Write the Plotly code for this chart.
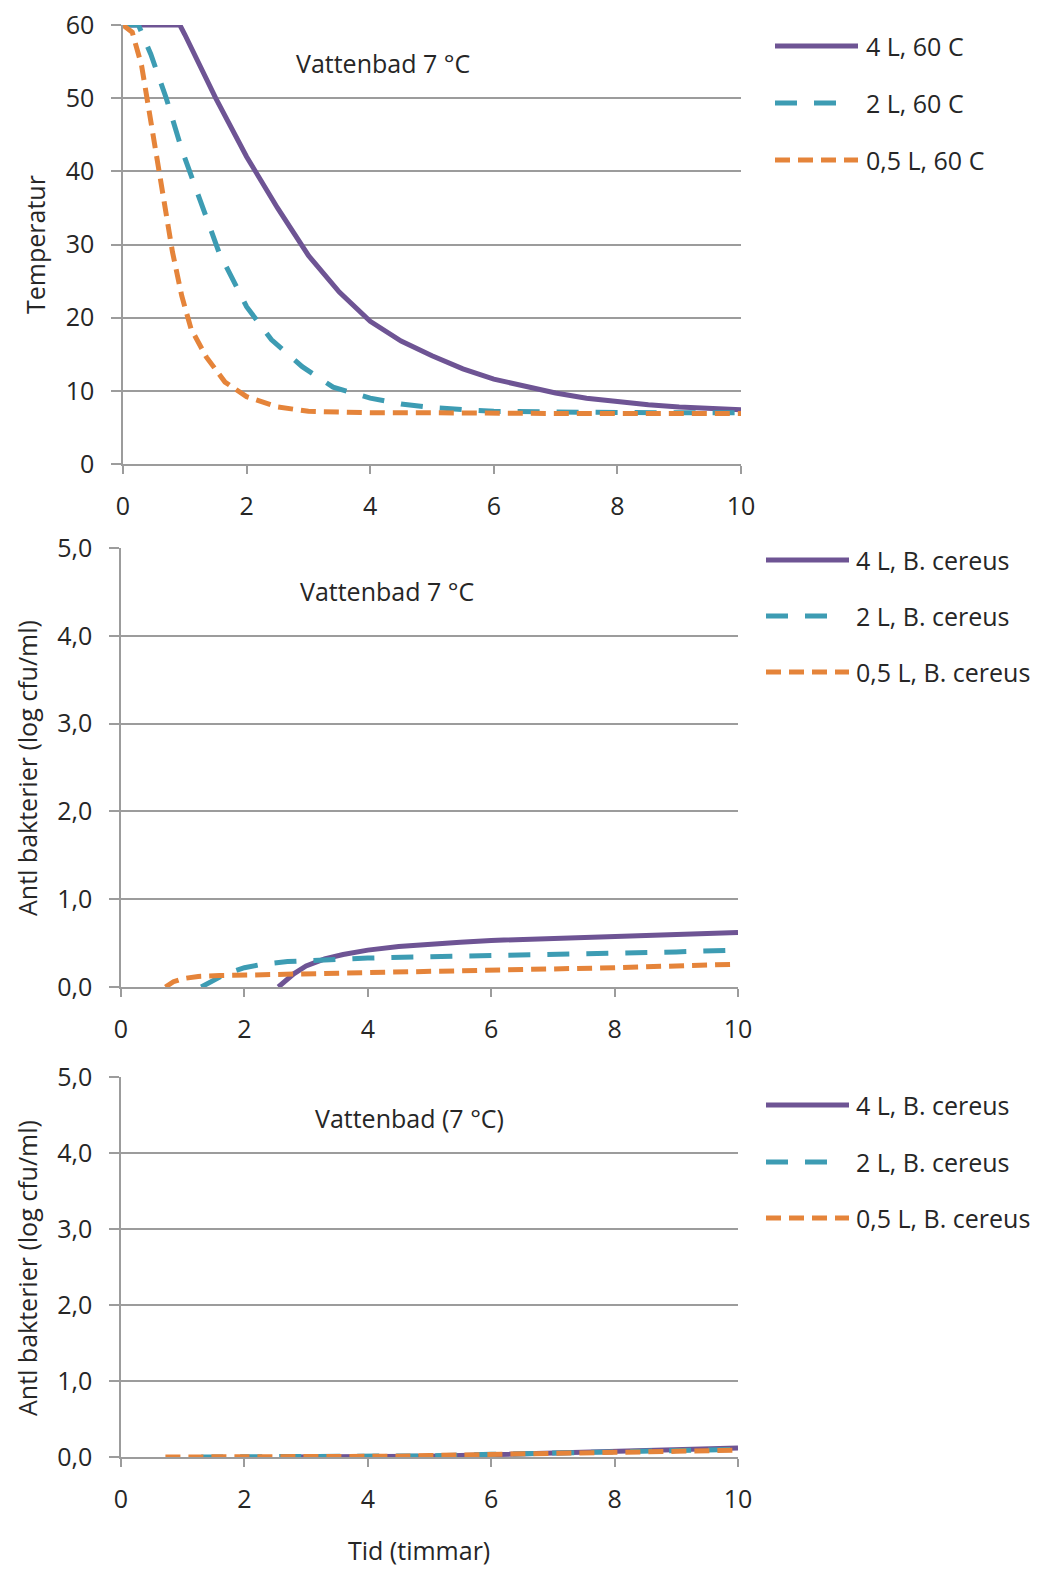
import plotly.graph_objects as go

# ---- Panel 1: temperature (°C) over time (h) ----
t_temp_4l = [0, 0.92, 1.0, 1.2, 1.5, 2.0, 2.5, 3.0, 3.5, 4.0, 4.5, 5.0, 5.5, 6.0, 6.5, 7.0, 7.5, 8.0, 8.5, 9.0, 9.5, 10.0]
temp_4l = [60, 60, 58.7, 55.2, 50, 42, 35, 28.5, 23.5, 19.5, 16.8, 14.8, 13, 11.6, 10.6, 9.7, 9.0, 8.5, 8.1, 7.8, 7.6, 7.4]

t_temp_2l = [0, 0.25, 0.45, 0.7, 0.95, 1.25, 1.55, 2.0, 2.4, 2.9, 3.4, 4.0, 4.5, 5.0, 5.5, 6.0, 7.0, 8.0, 9.0, 10.0]
temp_2l = [60, 60, 56, 50, 43, 36, 29, 21.5, 17, 13.3, 10.5, 9.0, 8.2, 7.7, 7.4, 7.2, 7.1, 7.0, 7.0, 7.0]

t_temp_05l = [0, 0.15, 0.3, 0.4, 0.5, 0.6, 0.7, 0.8, 0.95, 1.1, 1.35, 1.65, 2.0, 2.5, 3.0, 4.0, 5.0, 6.0, 7.0, 8.0, 9.0, 10.0]
temp_05l = [60, 59, 54.5, 49.5, 44, 39.5, 34, 29, 23, 18.5, 14.6, 11.2, 9.2, 7.8, 7.2, 7.0, 7.0, 6.9, 6.9, 6.9, 6.9, 6.9]

# ---- Panel 2: B. cereus growth (log cfu/ml) ----
t_bc_4l = [2.55, 2.8, 3.0, 3.3, 3.6, 4.0, 4.5, 5.0, 5.5, 6.0, 7.0, 8.0, 9.0, 10.0]
bc_4l = [0.0, 0.15, 0.24, 0.32, 0.37, 0.42, 0.46, 0.49, 0.51, 0.53, 0.55, 0.58, 0.60, 0.62]

t_bc_2l = [1.3, 1.5, 1.7, 2.0, 2.3, 2.7, 3.2, 4.0, 5.0, 6.0, 7.0, 8.0, 9.0, 10.0]
bc_2l = [0.0, 0.08, 0.15, 0.22, 0.26, 0.29, 0.31, 0.33, 0.345, 0.355, 0.37, 0.385, 0.40, 0.42]

t_bc_05l = [0.72, 0.85, 1.0, 1.25, 1.6, 2.0, 3.0, 4.0, 5.0, 6.0, 7.0, 8.0, 9.0, 10.0]
bc_05l = [0.0, 0.06, 0.095, 0.12, 0.13, 0.135, 0.15, 0.16, 0.175, 0.19, 0.205, 0.22, 0.24, 0.26]

# ---- Panel 3: B. cereus growth, second run ----
t_bc3_4l = [2.6, 3.0, 4.0, 5.0, 6.0, 7.0, 8.0, 9.0, 10.0]
bc3_4l = [0.0, 0.0, 0.0, 0.01, 0.03, 0.05, 0.07, 0.09, 0.12]

t_bc3_2l = [1.3, 2.0, 3.0, 4.0, 5.0, 6.0, 7.0, 8.0, 9.0, 10.0]
bc3_2l = [0.0, 0.0, 0.0, 0.0, 0.015, 0.035, 0.05, 0.065, 0.08, 0.10]

t_bc3_05l = [0.72, 2.0, 3.0, 4.0, 4.5, 5.0, 6.0, 7.0, 8.0, 9.0, 10.0]
bc3_05l = [0.0, 0.0, 0.0, 0.0, 0.01, 0.02, 0.03, 0.045, 0.06, 0.075, 0.09]

names_temp = ["4 L, 60 C", "2 L, 60 C", "0,5 L, 60 C"]
names_bc = ["4 L, B. cereus", "2 L, B. cereus", "0,5 L, B. cereus"]
panel_notes = ["Vattenbad 7 °C", "Vattenbad 7 °C", "Vattenbad (7 °C)"]
y_titles = ["Temperatur", "Antl bakterier (log cfu/ml)", "Antl bakterier (log cfu/ml)"]
x_title = "Tid (timmar)"

COLORS = ["#6E5494", "#3D9CB3", "#E5843A"]
DASHES = ["solid", "22px,17px", "15px,8px"]
LW = 5
GRID = "#9C9C9C"
TEXT = "#262626"
FONT = "Open Sans"
FS = 25

W, H = 1048, 1569


def px_x(p):
    return p / W


def px_y(p):
    return 1 - p / H


fig = go.Figure()

panels = [
    ([(t_temp_4l, temp_4l), (t_temp_2l, temp_2l), (t_temp_05l, temp_05l)], names_temp),
    ([(t_bc_4l, bc_4l), (t_bc_2l, bc_2l), (t_bc_05l, bc_05l)], names_bc),
    ([(t_bc3_4l, bc3_4l), (t_bc3_2l, bc3_2l), (t_bc3_05l, bc3_05l)], names_bc),
]

for pi, (series, names) in enumerate(panels):
    sfx = "" if pi == 0 else str(pi + 1)
    for si, (xs, ys) in enumerate(series):
        fig.add_trace(go.Scatter(
            x=xs, y=ys, mode="lines", name=names[si],
            line=dict(color=COLORS[si], width=LW, dash=DASHES[si]),
            xaxis="x" + sfx, yaxis="y" + sfx, showlegend=False,
        ))

# plot-area boxes (pixels): left, right, top, bottom
boxes = [(123, 741, 25, 464), (121, 738, 548, 987), (121, 738, 1077, 1457)]
y_ranges = [[0, 60], [0, 5], [0, 5]]
y_dticks = [10, 1, 1]
y_formats = ["d", ".1f", ".1f"]

for i, (l, r, t, b) in enumerate(boxes):
    sfx = "" if i == 0 else str(i + 1)
    common_font = dict(family=FONT, size=FS, color=TEXT)
    fig.update_layout(**{
        "xaxis" + sfx: dict(
            domain=[px_x(l), px_x(r)], anchor="y" + sfx, range=[0, 10],
            dtick=2, tick0=0, showgrid=False, zeroline=False, automargin=False,
            showline=True, linecolor=GRID, linewidth=1.5,
            ticks="outside", ticklen=8, tickwidth=1.5, tickcolor=GRID,
            ticklabelstandoff=11, tickfont=common_font,
        ),
        "yaxis" + sfx: dict(
            domain=[px_y(b), px_y(t)], anchor="x" + sfx, range=y_ranges[i],
            dtick=y_dticks[i], tick0=0, tickformat=y_formats[i],
            showgrid=True, gridcolor=GRID, gridwidth=1.5, zeroline=False,
            automargin=False,
            showline=True, linecolor=GRID, linewidth=1.5,
            ticks="outside", ticklen=10, tickwidth=1.5, tickcolor=GRID,
            ticklabelstandoff=12, tickfont=common_font,
        ),
    })

annotations = []
shapes = []

# panel notes
note_pos = [(383, 63), (387, 591), (409, 1118)]
for (cx, cy), txt in zip(note_pos, panel_notes):
    annotations.append(dict(x=px_x(cx), y=px_y(cy), xref="paper", yref="paper",
                            text=txt, showarrow=False, xanchor="center", yanchor="middle",
                            font=dict(family=FONT, size=FS, color=TEXT)))

# y-axis titles
ytitle_pos = [(35, 245), (27, 768), (27, 1268)]
for (cx, cy), txt in zip(ytitle_pos, y_titles):
    annotations.append(dict(x=px_x(cx), y=px_y(cy), xref="paper", yref="paper",
                            text=txt, showarrow=False, textangle=-90,
                            xanchor="center", yanchor="middle",
                            font=dict(family=FONT, size=FS, color=TEXT)))

# shared x-axis title
annotations.append(dict(x=px_x(419), y=px_y(1550), xref="paper", yref="paper",
                        text=x_title, showarrow=False, xanchor="center", yanchor="middle",
                        font=dict(family=FONT, size=FS, color=TEXT)))

# legends: line sample + label for each series
# sample lengths per series (the long-dash sample shows exactly two dashes)
SAMPLE_LEN = [83, 61, 83]
legend_specs = [
    (775, 864, [46, 103, 160], names_temp),
    (766, 854, [560, 616, 672], names_bc),
    (766, 854, [1105, 1162, 1218], names_bc),
]
for x0, xt, rows, names in legend_specs:
    for si, (ry, nm) in enumerate(zip(rows, names)):
        shapes.append(dict(type="line", xref="paper", yref="paper",
                           x0=px_x(x0), x1=px_x(x0 + SAMPLE_LEN[si]), y0=px_y(ry), y1=px_y(ry),
                           line=dict(color=COLORS[si], width=LW, dash=DASHES[si])))
        annotations.append(dict(x=px_x(xt), y=px_y(ry), xref="paper", yref="paper",
                                text=nm, showarrow=False, xanchor="left", yanchor="middle",
                                font=dict(family=FONT, size=FS, color=TEXT)))

fig.update_layout(
    template="none",
    width=W, height=H,
    margin=dict(l=0, r=0, t=0, b=0, pad=0, autoexpand=False),
    paper_bgcolor="white", plot_bgcolor="white",
    separators=",.",
    showlegend=False,
    annotations=annotations,
    shapes=shapes,
    font=dict(family=FONT, size=FS, color=TEXT),
)

fig.write_html("out.html")
